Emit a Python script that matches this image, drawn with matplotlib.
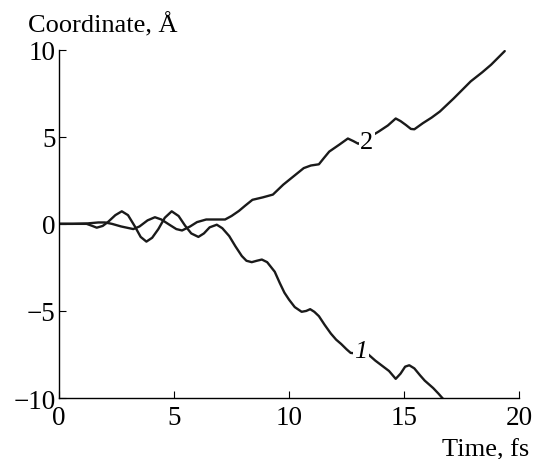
import matplotlib
matplotlib.use("Agg")
import matplotlib.pyplot as plt

plt.rcParams['font.family'] = ['Liberation Serif', 'DejaVu Serif']

# curve 1 (goes down)
t1 = [0.0, 0.6, 1.2, 1.45, 1.64, 1.9, 2.14, 2.45, 2.73, 3.0, 3.3, 3.55, 3.8, 4.05,
      4.32, 4.6, 4.9, 5.2, 5.48, 5.75, 6.06, 6.3, 6.55, 6.86, 7.1, 7.4, 7.67, 7.95,
      8.15, 8.38, 8.6, 8.82, 9.05, 9.38, 9.6, 9.8, 10.0, 10.25, 10.55, 10.75, 10.92,
      11.1, 11.3, 11.55, 11.82, 12.05, 12.27, 12.5, 12.68, 13.45, 13.75, 14.04,
      14.35, 14.64, 14.85, 15.05, 15.23, 15.45, 15.7, 15.9, 16.27, 16.5, 16.7]
x1 = [0.0, 0.0, 0.0, -0.12, -0.22, -0.12, 0.12, 0.5, 0.72, 0.5, -0.15, -0.75, -1.02, -0.8,
      -0.3, 0.35, 0.72, 0.45, -0.1, -0.55, -0.75, -0.55, -0.2, -0.05, -0.25, -0.7, -1.29, -1.85,
      -2.12, -2.2, -2.12, -2.05, -2.2, -2.75, -3.4, -3.95, -4.35, -4.78, -5.05, -5.0, -4.9,
      -5.05, -5.3, -5.8, -6.3, -6.65, -6.9, -7.2, -7.41, -7.5, -7.85, -8.14,
      -8.45, -8.9, -8.6, -8.2, -8.12, -8.3, -8.7, -9.0, -9.43, -9.75, -10.05]

# curve 2 (goes up)
t2 = [0.0, 0.6, 1.2, 1.71, 2.0, 2.3, 2.7, 3.23, 3.5, 3.85, 4.17, 4.45, 4.8, 5.1, 5.35,
      5.7, 6.0, 6.4, 6.8, 7.22, 7.5, 7.82, 8.1, 8.41, 8.86, 9.3, 9.75, 10.19, 10.64,
      10.95, 11.3, 11.5, 11.75, 12.19, 12.56, 12.8, 13.01, 13.9, 14.3, 14.64, 14.85,
      15.08, 15.3, 15.45, 15.82, 16.2, 16.56, 17.16, 17.9, 18.4, 18.79, 19.38]
x2 = [0.0, 0.0, 0.02, 0.08, 0.08, 0.0, -0.15, -0.3, -0.15, 0.2, 0.38, 0.25, -0.05, -0.3, -0.38,
      -0.15, 0.1, 0.25, 0.25, 0.25, 0.45, 0.74, 1.05, 1.38, 1.52, 1.68, 2.25, 2.72, 3.2,
      3.35, 3.42, 3.75, 4.15, 4.55, 4.9, 4.75, 4.6, 5.3, 5.65, 6.05, 5.9,
      5.68, 5.45, 5.43, 5.78, 6.1, 6.45, 7.2, 8.18, 8.7, 9.14, 9.92]

x_ticks = [0, 5, 10, 15, 20]
y_ticks = [-10, -5, 0, 5, 10]

fig = plt.figure(figsize=(5.34, 4.60), dpi=100)
ax = fig.add_axes([0.1105, 0.1326, 0.9719 - 0.1105, 0.8898 - 0.1326])

line_kw = dict(color='#1a1a1a', linewidth=1.7, solid_capstyle='round', solid_joinstyle='round')
ax.plot(t1, x1, **line_kw)
ax.plot(t2, x2, **line_kw)

# curve labels with white background to cut the line
box = dict(facecolor='white', edgecolor='none', pad=1.0)
ax.text(13.38, 4.7, '2', fontsize=19, ha='center', va='center', bbox=box)
ax.text(13.13, -7.3, '1', fontsize=19, style='italic', ha='center', va='center', bbox=box)

ax.set_xlim(0, 20)
ax.set_ylim(-10, 10)
ax.set_xticks(x_ticks)
ax.set_yticks(y_ticks)
ax.spines['top'].set_visible(False)
ax.spines['right'].set_visible(False)
for s in ['left', 'bottom']:
    ax.spines[s].set_linewidth(1.0)
ax.tick_params(direction='in', length=5, width=0.8, labelsize=19.5)
ax.tick_params(axis='x', pad=5)
ax.tick_params(axis='y', pad=2.5)

fig.text(27.7 / 534, 1 - 32.4 / 460, 'Coordinate, Å', fontsize=19, ha='left', va='baseline')
fig.text(529 / 534, 1 - 456 / 460, 'Time, fs', fontsize=19, ha='right', va='baseline')

fig.savefig('out.png', dpi=100)
